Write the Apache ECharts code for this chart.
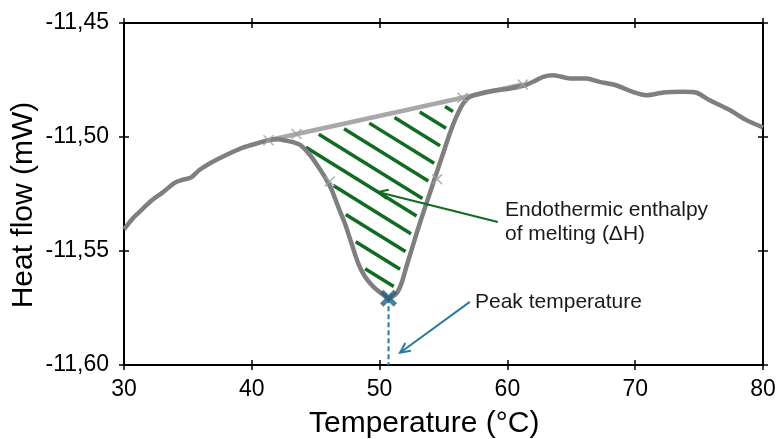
<!DOCTYPE html>
<html><head><meta charset="utf-8">
<script src="https://cdn.jsdelivr.net/npm/echarts@6/dist/echarts.min.js"></script>
<style>html,body{margin:0;padding:0;background:#fff}#c{width:777px;height:439px}</style>
</head><body><div id="c"></div>
<script>
// ---------- data ----------
const temperatures = [30.0,30.7,31.5,32.2,33.1,33.9,34.5,35.2,35.9,36.7,38.0,39.3,40.6,41.3,42.0,42.7,43.3,43.8,44.55,45.2,45.7,46.25,46.76,47.28,47.8,48.32,48.85,49.5,50.28,50.7,51.33,51.72,52.1,52.5,52.9,53.4,53.93,54.45,54.97,55.5,56.0,56.54,57.06,58.1,59.15,60.2,61.36,62.0,62.8,63.6,64.9,66.2,67.2,68.5,69.8,70.9,72.2,73.75,74.8,75.8,77.4,78.7,80.0];
const heatFlow = [-11.5405,-11.5356,-11.5313,-11.5276,-11.5240,-11.5203,-11.5189,-11.5179,-11.5145,-11.5116,-11.5079,-11.5047,-11.5025,-11.5014,-11.5010,-11.5016,-11.5024,-11.5035,-11.5079,-11.5130,-11.5174,-11.5232,-11.5306,-11.5378,-11.5466,-11.5553,-11.5612,-11.5656,-11.5692,-11.5707,-11.5685,-11.5641,-11.5568,-11.5495,-11.5422,-11.5335,-11.5247,-11.5159,-11.5072,-11.4984,-11.4912,-11.4853,-11.4824,-11.4806,-11.4795,-11.4787,-11.4773,-11.4758,-11.4736,-11.4729,-11.4743,-11.4743,-11.4758,-11.4773,-11.4802,-11.4817,-11.4805,-11.4802,-11.4806,-11.4838,-11.4882,-11.4926,-11.4958];
const xTickLabels = ['30','40','50','60','70','80'];
const yTickLabels = ['-11,60','-11,55','-11,50','-11,45'];
const baselineT = [41.3, 61.2];
const baselineV = [-11.5014, -11.4770];
const meltStartT = 43.5;
const meltEndT = 56.5;
const markerT = [41.3, 43.5, 46.1, 54.5, 56.5, 61.2];
const markerV = [-11.5014, -11.4987, -11.5195, -11.5185, -11.4828, -11.4770];
const peakT = 50.7;
const peakV = -11.5707;
const axisFloor = -11.60;
const enthalpyArrowT = [59.25, 49.87];
const enthalpyArrowV = [-11.5373, -11.5241];
const peakArrowT = [57.06, 51.6];
const peakArrowV = [-11.5723, -11.5946];
const xTitle = 'Temperature (°C)';
const yTitle = 'Heat flow (mW)';
const enthalpyLabel = 'Endothermic enthalpy\nof melting (ΔH)';
const peakLabel = 'Peak temperature';

// ---------- styles ----------
const FONT = '"Liberation Sans", Arial, sans-serif';
const CURVE = '#7f7f7f', BASE = '#a8a8a8', GREEN = '#116b21', BLUE = '#1b5f80', BLUE2 = '#2a7aa0';
const hatchAnchor = [47.68, -11.5351];

function baselineAt(t){
  return baselineV[0] + (t - baselineT[0]) * (baselineV[1]-baselineV[0])/(baselineT[1]-baselineT[0]);
}
const curvePairs = temperatures.map((t,i)=>[t, heatFlow[i]]);
const hatchPolygon = [[meltStartT, baselineAt(meltStartT)], [meltEndT, baselineAt(meltEndT)]];
for (let i = temperatures.length-1; i >= 0; i--) {
  if (temperatures[i] >= meltStartT + 0.25 && temperatures[i] <= meltEndT + 0.1) hatchPolygon.push([temperatures[i], heatFlow[i]]);
}

function renderHatch(params, api){
  const poly = hatchPolygon.map(p => api.coord(p));
  const ang = Math.atan(0.62), spacing = 18, inset = 5.5;
  const d = [Math.cos(ang), Math.sin(ang)], n = [-Math.sin(ang), Math.cos(ang)];
  const a = api.coord(hatchAnchor);
  const c0 = n[0]*a[0] + n[1]*a[1];
  let cmin = Infinity, cmax = -Infinity;
  poly.forEach(p => { const c = n[0]*p[0]+n[1]*p[1]; cmin = Math.min(cmin,c); cmax = Math.max(cmax,c); });
  const children = [];
  for (let k = Math.ceil((cmin-c0)/spacing); k <= Math.floor((cmax-c0)/spacing); k++){
    const c = c0 + k*spacing;
    const ts = [];
    for (let i = 0; i < poly.length; i++){
      const A = poly[i], B = poly[(i+1)%poly.length];
      const fA = n[0]*A[0]+n[1]*A[1]-c, fB = n[0]*B[0]+n[1]*B[1]-c;
      if ((fA > 0) !== (fB > 0)) {
        const s = fA/(fA-fB);
        const X = [A[0]+s*(B[0]-A[0]), A[1]+s*(B[1]-A[1])];
        ts.push(d[0]*X[0]+d[1]*X[1]);
      }
    }
    ts.sort((x,y)=>x-y);
    for (let j = 0; j+1 < ts.length; j += 2){
      const t0 = ts[j]+inset+1.5, t1 = ts[j+1]-inset;
      if (t1 - t0 > 3) {
        children.push({type:'line', shape:{x1:n[0]*c+d[0]*t0, y1:n[1]*c+d[1]*t0, x2:n[0]*c+d[0]*t1, y2:n[1]*c+d[1]*t1},
          style:{stroke:GREEN, lineWidth:3.5}});
      }
    }
  }
  return {type:'group', children};
}
function makeArrowRenderer(color, width){
  return function(params, api){
    const p1 = api.coord([api.value(0), api.value(1)]);
    const p2 = api.coord([api.value(2), api.value(3)]);
    const ang = Math.atan2(p2[1]-p1[1], p2[0]-p1[0]);
    const L = 11, A = 0.45;
    const h1 = [p2[0]-L*Math.cos(ang-A), p2[1]-L*Math.sin(ang-A)];
    const h2 = [p2[0]-L*Math.cos(ang+A), p2[1]-L*Math.sin(ang+A)];
    return {type:'group', children:[
      {type:'line', shape:{x1:p1[0],y1:p1[1],x2:p2[0],y2:p2[1]}, style:{stroke:color, lineWidth:width}},
      {type:'polyline', shape:{points:[h1,p2,h2]}, style:{stroke:color, lineWidth:width, fill:null}}
    ]};
  };
}
function xPath(a){
  const b = 20-a;
  return 'path://M0,'+a+' L'+a+',0 L10,'+(10-a)+' L'+b+',0 L20,'+a+' L'+(10+a)+',10 L20,'+b+' L'+b+',20 L10,'+(10+a)+' L'+a+',20 L0,'+b+' L'+(10-a)+',10 Z';
}

const xMin = 30, xMax = 80, xInt = 10, yMin = -11.60, yMax = -11.45, yInt = 0.05;
const tickStyle = {color:'#000', width:1.5};
const lineAx = {show:true, onZero:false, lineStyle:{color:'#000', width:2}};
function xAx(pos, inside, labels){
  return {type:'value', gridIndex:0, position:pos, min:xMin, max:xMax, interval:xInt, axisLine:lineAx,
    axisTick:{show:true, inside, length:5, lineStyle:tickStyle}, splitLine:{show:false},
    axisLabel: labels ? {show:true, margin:13, fontSize:23, color:'#000', fontFamily:FONT,
      formatter: v => xTickLabels[Math.round((v-xMin)/xInt)]} : {show:false}};
}
function yAx(pos, inside, labels){
  return {type:'value', gridIndex:0, position:pos, min:yMin, max:yMax, interval:yInt, axisLine:lineAx,
    axisTick:{show:true, inside, length:5, lineStyle:tickStyle}, splitLine:{show:false},
    axisLabel: labels ? {show:true, margin:15, fontSize:23, color:'#000', fontFamily:FONT,
      formatter: v => yTickLabels[Math.round((v-yMin)/yInt)]} : {show:false}};
}

const chart = echarts.init(document.getElementById('c'), null, {renderer:'canvas'});
chart.setOption({
  animation:false,
  backgroundColor:'#fff',
  grid:{left:124, top:23, width:639, height:342, containLabel:false, outerBoundsMode:'none'},
  xAxis:[xAx('bottom',false,true), xAx('bottom',true,false), xAx('top',true,false), xAx('top',false,false)],
  yAxis:[yAx('left',false,true), yAx('left',true,false), yAx('right',true,false), yAx('right',false,false)],
  series:[
    {type:'custom', renderItem:renderHatch, data:[[meltStartT, baselineAt(meltStartT)]], z:1, silent:true},
    {type:'line', data:baselineT.map((t,i)=>[t, baselineV[i]]), showSymbol:false, lineStyle:{color:BASE, width:4.5}, z:2},
    {type:'line', data:curvePairs, showSymbol:false, smooth:0.25, lineStyle:{color:CURVE, width:4.5}, z:3},
    {type:'line', data:[[peakT, peakV],[peakT, axisFloor]], showSymbol:false, lineStyle:{color:BLUE2, width:2, type:[5,3]}, z:3},
    {type:'scatter', data:markerT.map((t,i)=>[t, markerV[i]]), symbol:xPath(2), symbolSize:11, itemStyle:{color:'#a0a0a0'}, z:4},
    {type:'scatter', data:[[peakT, peakV]], symbol:xPath(4), symbolSize:17, itemStyle:{color:BLUE}, z:6},
    {type:'custom', renderItem:makeArrowRenderer(GREEN, 2), data:[[enthalpyArrowT[0], enthalpyArrowV[0], enthalpyArrowT[1], enthalpyArrowV[1]]], z:5, silent:true},
    {type:'custom', renderItem:makeArrowRenderer(BLUE2, 2), data:[[peakArrowT[0], peakArrowV[0], peakArrowT[1], peakArrowV[1]]], z:5, silent:true}
  ],
  graphic:[
    {type:'text', x:309, y:423.5, style:{text:xTitle, font:'30px '+FONT, fill:'#000', align:'left', verticalAlign:'middle'}},
    {type:'text', x:23.5, y:205, rotation:Math.PI/2, style:{text:yTitle, font:'30px '+FONT, fill:'#000', align:'center', verticalAlign:'middle'}},
    {type:'text', x:505, y:198, style:{text:enthalpyLabel, font:'21px '+FONT, fill:'#1a1a1a', align:'left', verticalAlign:'top', lineHeight:24}},
    {type:'text', x:475, y:302, style:{text:peakLabel, font:'21px '+FONT, fill:'#1a1a1a', align:'left', verticalAlign:'middle'}}
  ]
});
</script></body></html>
